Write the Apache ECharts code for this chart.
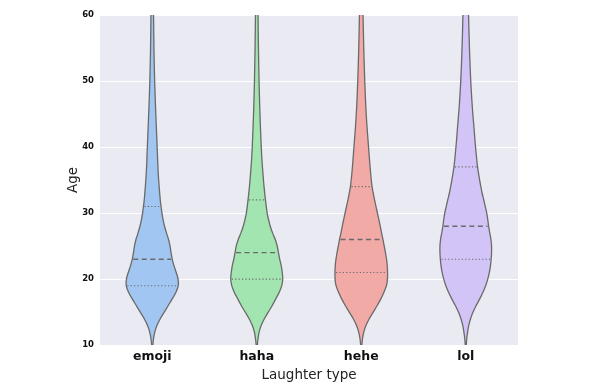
<!DOCTYPE html>
<html>
<head>
<meta charset="utf-8">
<script src="https://cdn.jsdelivr.net/npm/echarts@6/dist/echarts.min.js"></script>
<style>
html,body{margin:0;padding:0;background:#fff;}
#chart{width:599px;height:387px;}
</style>
</head>
<body>
<div id="chart"></div>
<script>
// ---- data ----
const categories = ['emoji', 'haha', 'hehe', 'lol'];
const yTicks = [10, 20, 30, 40, 50, 60];

// KDE profile of each violin: ages and estimated density (arbitrary units)
const emojiAges    = [9, 10, 11, 12, 13, 14, 15, 16, 17, 18, 19, 20, 21, 22, 23, 24, 25, 26, 27, 28, 29, 30, 31, 32, 34, 36, 38, 40, 43, 46, 50, 55, 60, 63];
const emojiDensity = [0.3, 0.6, 1.3, 2.6, 4.8, 8, 12, 16, 20, 23.7, 26, 25.8, 24, 21.8, 20, 18.8, 17.8, 16.3, 14.2, 12.3, 10.8, 9.7, 8.8, 8, 6.9, 6.0, 5.4, 4.9, 4.1, 3.3, 2.4, 1.7, 1.3, 1.1];

const hahaAges    = [9, 10, 11, 12, 13, 14, 15, 16, 17, 18, 19, 20, 21, 22, 23, 24, 25, 26, 27, 28, 29, 30, 32, 34, 36, 38, 40, 43, 46, 50, 55, 60, 63];
const hahaDensity = [0.3, 0.6, 1.3, 2.4, 4.5, 7.6, 11.5, 15.5, 19, 22.5, 25, 26, 25.5, 24.5, 23, 21.7, 20.5, 18.5, 15.8, 13.5, 11.8, 10.4, 8.7, 7.3, 6.2, 5.2, 4.5, 3.7, 3.0, 2.3, 1.7, 1.3, 1.1];

const heheAges    = [9, 10, 11, 12, 13, 14, 15, 16, 17, 18, 19, 20, 21, 22, 23, 24, 25, 26, 27, 28, 29, 30, 31, 32, 33, 34, 36, 38, 40, 43, 46, 50, 55, 60, 63];
const heheDensity = [0.3, 0.6, 1.3, 2.6, 4.8, 8, 12, 16, 19.6, 22.7, 25.2, 26.2, 26.3, 26, 25.3, 24.2, 23, 21.7, 20.3, 19, 17.6, 16.2, 14.7, 13.3, 12, 10.8, 9.4, 8.3, 7.3, 5.8, 4.6, 3.5, 2.5, 1.8, 1.5];

const lolAges    = [9, 10, 11, 12, 13, 14, 15, 16, 17, 18, 19, 20, 21, 22, 23, 24, 25, 26, 27, 28, 29, 30, 31, 32, 33, 34, 35, 37, 40, 43, 46, 50, 55, 60, 63];
const lolDensity = [0.3, 0.5, 1, 1.9, 3, 4.8, 7.3, 10.4, 14, 17.2, 19.9, 22, 23.6, 24.7, 25.4, 25.8, 25.8, 25.2, 24, 22.9, 22, 21, 19.5, 18, 16.4, 15.1, 13.9, 11.8, 9.8, 8.2, 6.6, 5.0, 3.7, 2.8, 2.4];

// quartiles (Q1, median, Q3)
const q1Values     = [19, 20, 21, 23];
const medianValues = [23, 24, 26, 28];
const q3Values     = [31, 32, 34, 37];

// ---- styling ----
const fillColors = ['#a0c6f1', '#a2e5b0', '#f2aaa7', '#d3c4f7'];
const edgeColor = '#6a6a6a';
const DENSITY_PER_BAND = 104.5; // density units spanning one category band
const FONT = 'DejaVu Sans';

const profiles = [
  [emojiAges, emojiDensity],
  [hahaAges, hahaDensity],
  [heheAges, heheDensity],
  [lolAges, lolDensity]
];

function densityAt(ages, dens, a) {
  for (let i = 0; i < ages.length - 1; i++) {
    if (a >= ages[i] && a <= ages[i + 1]) {
      const t = (a - ages[i]) / (ages[i + 1] - ages[i]);
      return dens[i] + t * (dens[i + 1] - dens[i]);
    }
  }
  return 0;
}

function renderItem(params, api) {
  const idx = api.value(0);
  const band = api.size([1, 0])[0];
  const scale = band / DENSITY_PER_BAND;
  const cx = api.coord([idx, 10])[0];
  const ages = profiles[idx][0], dens = profiles[idx][1];
  const right = [], left = [];
  for (let i = 0; i < ages.length; i++) {
    const y = api.coord([idx, ages[i]])[1];
    right.push([cx + dens[i] * scale, y]);
    left.push([cx - dens[i] * scale, y]);
  }
  const pts = right.concat(left.reverse());
  const children = [{
    type: 'polygon',
    shape: { points: pts, smooth: 0.35 },
    style: { fill: fillColors[idx], stroke: edgeColor, lineWidth: 1.3 }
  }];
  const lines = [
    [q1Values[idx], [1.2, 2.2], 1.1],
    [medianValues[idx], [5, 3.5], 1.4],
    [q3Values[idx], [1.2, 2.2], 1.1]
  ];
  lines.forEach(function (l) {
    const w = densityAt(ages, dens, l[0]) * scale - 1;
    const y = api.coord([idx, l[0]])[1];
    children.push({
      type: 'line',
      shape: { x1: cx - w, y1: y, x2: cx + w, y2: y },
      style: { stroke: edgeColor, lineWidth: l[2], lineDash: l[1] }
    });
  });
  return { type: 'group', children: children };
}

const chart = echarts.init(document.getElementById('chart'), null, { renderer: 'canvas' });
chart.setOption({
  animation: false,
  backgroundColor: '#ffffff',
  grid: {
    left: 100, top: 15, right: 81, bottom: 38,
    show: true, backgroundColor: '#eaeaf2', borderWidth: 0
  },
  xAxis: {
    type: 'category',
    data: categories,
    name: 'Laughter type',
    nameLocation: 'middle',
    nameGap: 19,
    nameTextStyle: { fontFamily: FONT, fontSize: 13.5, color: '#222' },
    axisLine: { show: false },
    axisTick: { show: false },
    splitLine: { show: false },
    axisLabel: { fontFamily: FONT, fontSize: 12.5, fontWeight: 'bold', color: '#111', margin: 5 }
  },
  yAxis: {
    type: 'value',
    min: yTicks[0],
    max: yTicks[yTicks.length - 1],
    interval: 10,
    name: 'Age',
    nameLocation: 'middle',
    nameGap: 20,
    nameMoveOverlap: false,
    nameTextStyle: { fontFamily: FONT, fontSize: 13.5, color: '#222' },
    axisLine: { show: false },
    axisTick: { show: false },
    splitLine: { show: true, lineStyle: { color: '#ffffff', width: 1 } },
    axisLabel: { fontFamily: FONT, fontSize: 8.5, fontWeight: 'bold', color: '#111', margin: 6 }
  },
  series: [{
    type: 'custom',
    clip: true,
    renderItem: renderItem,
    encode: { x: 0 },
    data: categories.map(function (c, i) { return [i]; })
  }]
});
</script>
</body>
</html>
